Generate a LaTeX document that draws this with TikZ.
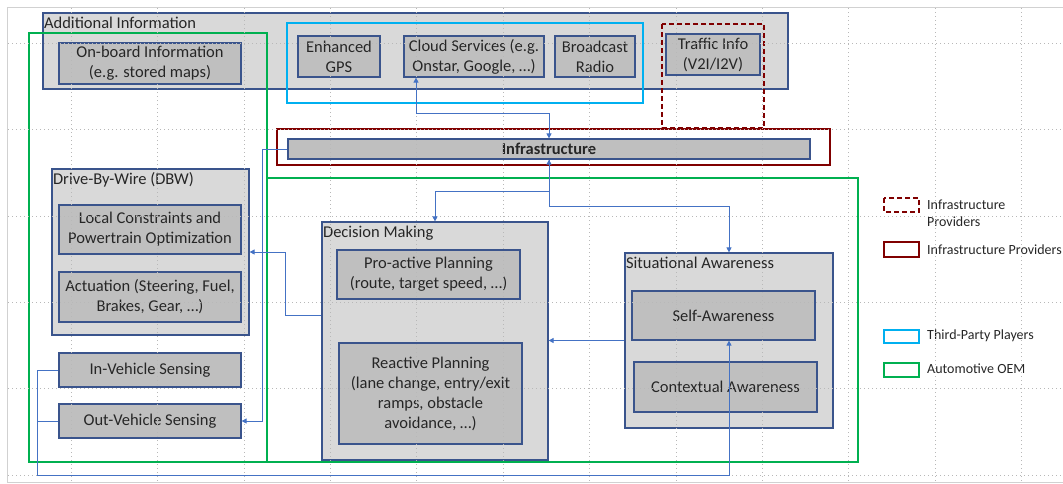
\documentclass[tikz,border=0pt]{standalone}
\usepackage{fontspec}
\setmainfont{Carlito}
\usetikzlibrary{arrows.meta}

\definecolor{boxline}{RGB}{58,84,140}
\definecolor{groupfill}{RGB}{217,217,217}
\definecolor{itemfill}{RGB}{191,191,191}
\definecolor{linkc}{RGB}{68,114,196}
\definecolor{oemc}{RGB}{0,176,80}
\definecolor{thirdc}{RGB}{0,176,240}
\definecolor{infrac}{RGB}{128,0,0}
\definecolor{textc}{RGB}{38,38,38}

\tikzset{
  group/.style={draw=boxline, fill=groupfill, line width=1.2pt, inner sep=0pt},
  item/.style={draw=boxline, fill=itemfill, line width=1.2pt, inner sep=0pt, align=center,
    text=textc, font=\fontsize{16.5}{20}\selectfont},
  head/.style={anchor=north west, inner xsep=1.5pt, inner ysep=4pt, text=textc,
    font=\fontsize{16.5}{20}\selectfont},
  legtext/.style={anchor=west, align=left, inner sep=0pt, text=textc,
    font=\fontsize{14}{17}\selectfont},
  link/.style={draw=linkc, line width=0.8pt},
  fwd/.style={-{Triangle[length=5pt,width=5pt]}},
  both/.style={{Triangle[length=5pt,width=5pt]}-{Triangle[length=5pt,width=5pt]}},
  gridline/.style={black!28, line width=0.4pt, dash pattern=on 0.8pt off 3.2pt},
  oem/.style={draw=oemc, line width=2pt},
  third/.style={draw=thirdc, line width=2pt},
  infra/.style={draw=infrac, line width=2pt},
}

% box given by its corners (x1,y1)(x2,y2), y counted downwards
\def\blk[#1](#2)(#3,#4)(#5,#6)#7{\node[#1, minimum width={#5-#3}, minimum height={#6-#4}] (#2) at ({(#3+#5)/2},{(#4+#6)/2}) {#7};}

\begin{document}
\begin{tikzpicture}[x=1pt, y=-1pt]
			%%%%% START %%%%%
			\useasboundingbox (0,0) rectangle (1063,483);
			\clip (0,0) rectangle (1063,483);
			\draw[black!18, line width=1pt] (7,7) rectangle (1080,482);
			
			% top row
			\blk[group](addinfo)(43,13)(788,89){}
			\node[head] (addinfotitle) at (addinfo.north west) {Additional Information};
			\blk[item](onboard)(59,43)(241,84){On-board Information\\(e.g. stored maps)}
			\blk[item](gps)(298,36)(380,77){Enhanced\\GPS}
			\blk[item](cloud)(404,36)(544,77){Cloud Services (e.g.\\Onstar, Google, \dots)}
			\blk[item](radio)(555,36)(635,77){Broadcast\\Radio}
			\blk[item](traffic)(666,34)(760,75){Traffic Info\\(V2I/I2V)}
			
			\draw[third] (287,23) rectangle (643,103);
			\draw[infra, dash pattern=on 5pt off 3pt] (662,24) rectangle (764,128);
			\draw[infra] (277,129) rectangle (830,165);
			\blk[item](infra)(288,139)(810,159){\textbf{Infrastructure}}
			
			\draw[oem] (29,33) rectangle (267,462);
			\draw[oem] (267,178) rectangle (858,462);
			
			% vehicle side
			\blk[group](dbw)(52,169)(249,335){}
			\node[head] (dbwtitle) at (dbw.north west) {Drive-By-Wire (DBW)};
			\blk[item](local)(59,205)(241,254){Local Constraints and\\Powertrain Optimization}
			\blk[item](actuation)(59,272)(241,322){Actuation (Steering, Fuel,\\Brakes, Gear, \dots)}
			\blk[item](invs)(59,353)(241,387){In-Vehicle Sensing}
			\blk[item](outvs)(59,404)(241,438){Out-Vehicle Sensing}
			
			\blk[group](dm)(322,222)(548,460){}
			\node[head] (dmtitle) at (dm.north west) {Decision Making};
			\blk[item](proactive)(337,250)(520,299){Pro-active Planning\\(route, target speed, \dots)}
			\blk[item](reactive)(339,343)(522,444){Reactive Planning\\(lane change, entry/exit\\ramps, obstacle\\avoidance, \dots)}
			
			\blk[group](sa)(625,253)(833,428){}
			\node[head] (satitle) at (sa.north west) {Situational Awareness};
			\blk[item](self)(632,291)(815,340){Self-Awareness}
			\blk[item](context)(634,362)(817,412){Contextual Awareness}
			
			% legend
			\draw[infra, dash pattern=on 5pt off 3pt] (884,198) rectangle (919,212);
			\node[legtext] (legdashed) at (927,213) {Infrastructure\\Providers};
			\draw[infra] (884,242) rectangle (919,257);
			\node[legtext] (legsolid) at (927,250) {Infrastructure Providers};
			\draw[third] (884,330) rectangle (919,343);
			\node[legtext] (legthird) at (927,336) {Third-Party Players};
			\draw[oem] (884,363) rectangle (919,377);
			\node[legtext] (legoem) at (927,369) {Automotive OEM};
			
			% gridlines
			\foreach \i in {0,...,11}
				\draw[gridline] ({71+86.4*\i},8) -- ({71+86.4*\i},483);
			\foreach \j in {0,...,5}
				\draw[gridline] (8,{43+86.4*\j}) -- (1063,{43+86.4*\j});
			
			% connectors
			\draw[link,both] ([xshift=-58pt]cloud.south) -- ++(0,36) -| (infra.north);
			\draw[link,both] (infra.south) -- ++(0,32) -| (dm.north);
			\draw[link,fwd] (infra.south) -- ++(0,47) -| (sa.north);
			\draw[link,fwd] (infra.west) -- ++(-25,0) |- (outvs.east);
			\draw[link,fwd] ([yshift=26pt]dm.west) -- ++(-36,0) |- (dbw.east);
			\draw[link,fwd] (sa.west) -- (sa.west -| dm.east);
			\coordinate (sense) at (37,475);
			\draw[link,fwd] (invs.west) -| (sense) -| (sa.center |- self.south);
			\draw[link] (outvs.west) -- (outvs.west -| sense);
			%%%%% END %%%%%
\end{tikzpicture}
\end{document}
